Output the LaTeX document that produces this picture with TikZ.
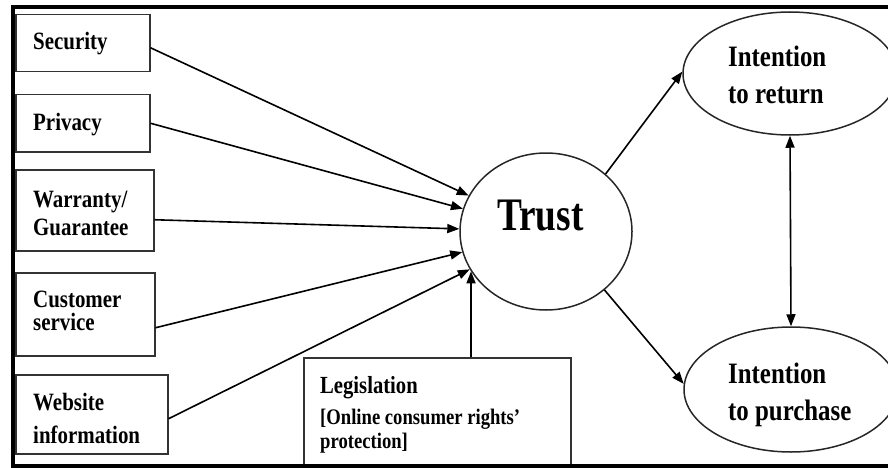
\documentclass[tikz,border=0pt]{standalone}
\usepackage{fontspec}
\setmainfont[FakeStretch=0.84]{Liberation Serif}
\newfontfamily\trustfont[FakeStretch=0.8]{Liberation Serif}
\usetikzlibrary{arrows.meta,shapes.geometric}
% stacked lines whose baseline is the first line's baseline
\newcommand\lnstack[1]{\vtop{\lineskiplimit=-100pt\lineskip=0pt #1}}

\begin{document}
\begin{tikzpicture}[x=1pt,y=-1pt,
  box/.style={draw=black!80, line width=1.5pt, rectangle, inner sep=0pt, anchor=north west},
  oval/.style={draw=black!85, line width=1.5pt, ellipse, inner sep=0pt},
  lbl/.style={anchor=base west, inner sep=0pt, font=\fontsize{24.9}{28}\selectfont\bfseries},
  ovallbl/.style={anchor=base west, inner sep=0pt, font=\fontsize{29.6}{37.5}\selectfont\bfseries},
  conn/.style={line width=1.6pt, -{Triangle[length=12pt,width=9pt]}},
  biconn/.style={line width=1.6pt, {Triangle[length=12pt,width=9pt]}-{Triangle[length=12pt,width=9pt]}},
  frameline/.style={line width=4pt, line join=miter}]
\useasboundingbox (0,0) rectangle (888,468);

% antecedent boxes
\node[box, minimum width=134pt, minimum height=57pt] (sec) at (15,14) {};
\node[box, minimum width=134pt, minimum height=57pt] (pri) at (15,94) {};
\node[box, minimum width=138pt, minimum height=81pt] (war) at (15,169) {};
\node[box, minimum width=139pt, minimum height=83pt] (cus) at (15,272) {};
\node[box, minimum width=152pt, minimum height=79pt] (web) at (15,374) {};
\node[box, minimum width=267pt, minimum height=108pt] (leg) at (303,357) {};

\node[lbl] (secT) at (33,49.3) {Security};
\node[lbl] (priT) at (33,130) {Privacy};
\node[lbl] (warT) at (33,207) {\lnstack{\hbox{Warranty/}\baselineskip=28pt\hbox{Guarantee}}};
\node[lbl] (cusT) at (33,307) {\lnstack{\hbox{Customer}\baselineskip=23pt\hbox{service}}};
\node[lbl] (webT) at (33,410) {\lnstack{\hbox{Website}\baselineskip=33pt\hbox{information}}};
\node[anchor=base west, inner sep=0pt] (legT) at (320,393) {\lnstack{%
  \hbox{\fontsize{24.6}{28}\selectfont\bfseries Legislation}\baselineskip=31pt
  \hbox{\fontsize{22.2}{24}\selectfont\bfseries [Online consumer rights’}\baselineskip=24pt
  \hbox{\fontsize{22.2}{24}\selectfont\bfseries protection]}}};

% central construct and outcomes
\node[oval, minimum width=172pt, minimum height=157pt] (trust) at (546,231.5) {};
\node[anchor=base west, inner sep=0pt, font=\trustfont\bfseries\fontsize{46.6}{50}\selectfont] (trustT) at (497,230) {Trust};

\node[oval, minimum width=214pt, minimum height=123pt] (ret) at (790,73.5) {};
\node[oval, minimum width=214pt, minimum height=125pt] (pur) at (791,389.5) {};
\node[ovallbl] (retT) at (728,66.5) {\lnstack{\hbox{Intention}\baselineskip=37.5pt\hbox{to return}}};
\node[ovallbl] (purT) at (728,383) {\lnstack{\hbox{Intention}\baselineskip=37pt\hbox{to purchase}}};

% paths into trust
\draw[conn] ([yshift=-4.5pt]sec.east) -- (trust);
\draw[conn] (pri.east) -- (trust);
\draw[conn] ([yshift=-9.5pt]war.east) -- (trust);
\draw[conn] ([yshift=-13.5pt]cus.east) -- (trust);
\draw[conn] ([yshift=-4.5pt]web.east) -- (trust);
\draw[conn] (leg.north -| trust.208.6) -- (trust.208.6);

% paths out of trust
\draw[conn] (trust.44) -- (ret.179);
\draw[conn] (trust.-45) -- (pur.177);
\draw[biconn] (ret.south) -- (pur.north);

% outer frame, open on the right
\draw[frameline] (900,7.5) -- (12.5,7.5) -- (12.5,465.5) -- (900,465.5);
\end{tikzpicture}
\end{document}
